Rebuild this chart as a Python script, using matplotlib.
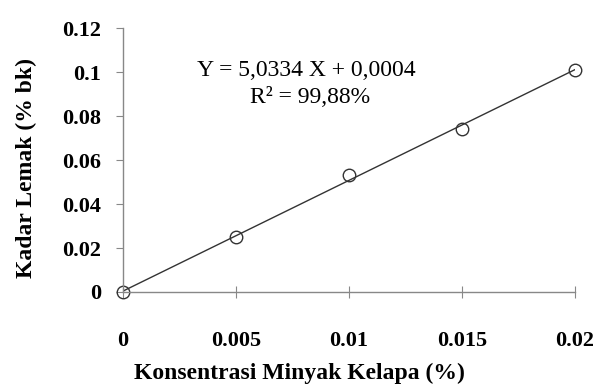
import numpy as np
import matplotlib.pyplot as plt

konsentrasi = [0, 0.005, 0.01, 0.015, 0.02]
kadar_lemak = [0, 0.025, 0.053, 0.074, 0.101]
slope, intercept = 5.0334, 0.0004

plt.rcParams['font.family'] = ['Liberation Serif', 'DejaVu Serif']

fig = plt.figure(figsize=(6.05, 3.85), dpi=100)
ax = fig.add_axes([0.2033, 0.2416, 0.7467, 0.6854])

# regression line
xs = np.array([0, 0.02])
ax.plot(xs, slope * xs + intercept, color='#333333', linewidth=1.0)
ax.plot(konsentrasi, kadar_lemak, linestyle='none', marker='o', markersize=9,
        markerfacecolor='none', markeredgecolor='#333333', markeredgewidth=1.0,
        clip_on=False)

ax.set_xlim(0, 0.02)
ax.set_ylim(0, 0.12)
ax.set_xticks([0, 0.005, 0.01, 0.015, 0.02])
ax.set_xticklabels(['0', '0.005', '0.01', '0.015', '0.02'])
ax.set_yticks([0, 0.02, 0.04, 0.06, 0.08, 0.1, 0.12])
ax.set_yticklabels(['0', '0.02', '0.04', '0.06', '0.08', '0.1', '0.12'])

for s in ['top', 'right']:
    ax.spines[s].set_visible(False)
for s in ['left', 'bottom']:
    ax.spines[s].set_color('#888888')
    ax.spines[s].set_linewidth(1.0)

ax.tick_params(axis='y', direction='out', length=5, color='#888888', pad=11,
               labelsize=16)
ax.tick_params(axis='x', direction='inout', length=8, color='#888888', pad=24,
               labelsize=16)
for lab in ax.get_xticklabels() + ax.get_yticklabels():
    lab.set_fontweight('bold')

ax.set_xlabel('Konsentrasi Minyak Kelapa (%)', fontsize=17, fontweight='bold')
ax.set_ylabel('Kadar Lemak (% bk)', fontsize=17, fontweight='bold')
ax.xaxis.set_label_coords(0.39, -0.27)
ax.yaxis.set_label_coords(-0.19, 0.47)

ax.text(0.0081, 0.1009, 'Y = 5,0334 X + 0,0004', fontsize=17, ha='center',
        va='center')
ax.text(0.0083, 0.0886, 'R² = 99,88%', fontsize=17, ha='center',
        va='center')

fig.savefig('out.png', dpi=100)
